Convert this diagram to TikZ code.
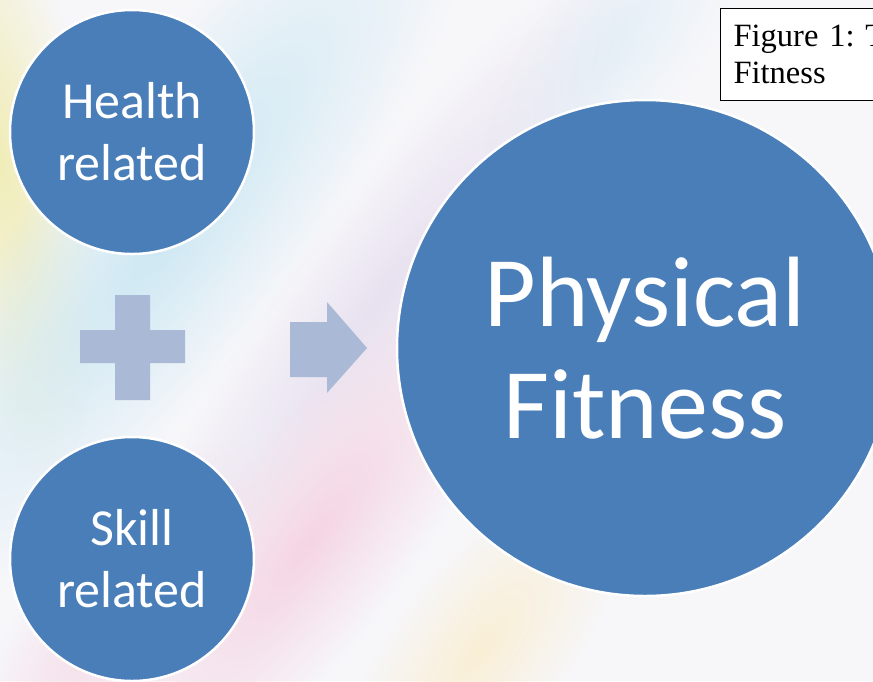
\documentclass[tikz,border=0pt]{standalone}
\usepackage{fontspec}
\setmainfont{Liberation Serif}
\newfontfamily\calibri{Carlito}
\usetikzlibrary{fadings}
\tikzfading[name=softfade, inner color=transparent!0, outer color=transparent!100]
\definecolor{bubblefill}{HTML}{4A7EB9}
\definecolor{shapefill}{HTML}{AABAD6}
\definecolor{bgbase}{HTML}{F7F7FA}
\definecolor{bgblue}{HTML}{CDE8F3}
\definecolor{bgyellow}{HTML}{F1EDB8}
\definecolor{bgpink}{HTML}{F5D5E3}
\definecolor{bglav}{HTML}{E8E1F0}
\definecolor{bgcream}{HTML}{FAEFD6}
\begin{document}
\begin{tikzpicture}[x=1pt,y=-1pt,
  bubble/.style={circle, fill=bubblefill, draw=white, line width=2.5pt,
    text=white, align=center, inner sep=0pt},
  smallfont/.style={font=\calibri\fontsize{52}{62}\selectfont},
  bigfont/.style={font=\calibri\fontsize{100}{112}\selectfont},
  shapebox/.style={fill=shapefill},
  fuzzy/.style={path fading=softfade}]
\useasboundingbox (0,0) rectangle (873,681);
% background
\fill[bgbase] (0,0) rectangle (873,681);
\fill[bgyellow, fuzzy, transform canvas={rotate around={8:(0,160)}}] (0,160) ellipse [x radius=90, y radius=320];
\fill[bgblue, fuzzy, transform canvas={rotate around={53:(170,230)}}] (170,230) ellipse [x radius=480, y radius=130];
\fill[bglav, fuzzy, transform canvas={rotate around={53:(380,300)}}] (380,300) ellipse [x radius=440, y radius=90];
\fill[bgpink, fuzzy, transform canvas={rotate around={53:(310,540)}}] (310,540) ellipse [x radius=340, y radius=100];
\fill[bgpink, fuzzy, opacity=0.8, transform canvas={rotate around={53:(110,620)}}] (110,620) ellipse [x radius=220, y radius=80];
\fill[bgcream, fuzzy, transform canvas={rotate around={53:(480,650)}}] (480,650) ellipse [x radius=220, y radius=90];
\fill[bgblue, fuzzy, opacity=0.4, transform canvas={rotate around={53:(620,40)}}] (620,40) ellipse [x radius=200, y radius=80];
% circles
\node[bubble, smallfont, minimum size=244] (health) at (132,132) {Health\\related};
\node[bubble, smallfont, minimum size=244] (skill) at (132,559) {Skill\\related};
\node[bubble, bigfont, minimum size=496] (fitness) at (645,348) {Physical\\Fitness};
% plus and arrow
\fill[shapebox] (115,295)--(150,295)--(150,330)--(185,330)--(185,363)--(150,363)
  --(150,400)--(115,400)--(115,363)--(80,363)--(80,330)--(115,330)--cycle;
\fill[shapebox] (290,322)--(327,322)--(327,302)--(367,348)--(327,393)--(327,377)
  --(290,377)--cycle;
% caption
\node[draw=black, line width=1.2pt, fill=white, anchor=north west,
  inner xsep=13pt, inner ysep=16.5pt, text width=200pt, align=left,
  font=\fontsize{32.5}{37}\selectfont\frenchspacing] (caption) at (720,8)
  {Figure 1: T\\Fitness};
\end{tikzpicture}
\end{document}
